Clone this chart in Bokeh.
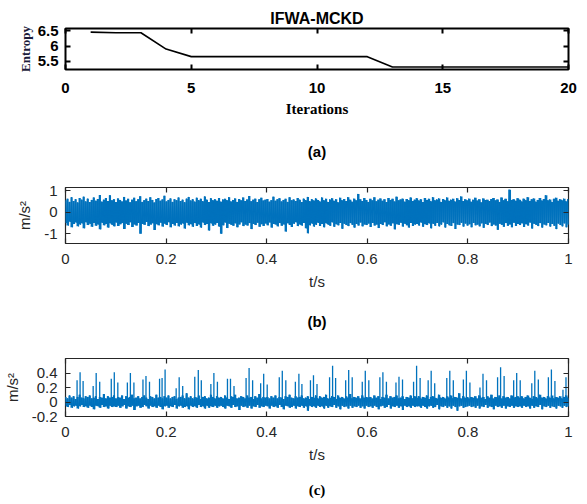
import numpy as np
from bokeh.plotting import figure
from bokeh.models import LinearAxis, FixedTicker, Range1d
from bokeh.layouts import column
from bokeh.embed import file_html
from bokeh.resources import INLINE

# ---------------- data ----------------
iterations = list(range(1, 21))
entropy = [6.46, 6.44, 6.44, 5.90, 5.65, 5.65, 5.65, 5.65, 5.65, 5.65,
           5.65, 5.65, 5.31, 5.31, 5.31, 5.31, 5.31, 5.31, 5.31, 5.31]

# raw vibration signal (b): local maxima / minima
b_hi = [.55,.62,.48,.70,.52,.60,.45,.66,.58,.72,.50,.63,.47,.57,.68,.53,.61,.80,.49,.58,.66,.52,.79,.55,.60,
        .47,.64,.57,.50,.71,.54,.62,.46,.58,.67,.51,.60,.74,.48,.56,.63,.52,.69,.57,.45,.61,.66,.53,.59,.76,
        .50,.57,.64,.48,.60,.55,.68,.52,.58,.46,.63,.71,.54,.60,.49,.67,.56,.62,.51,.73,.58,.47,.65,.55,.60,
        .53,.66,.49,.59,.62,.56,.70,.50,.57,.64,.48,.61,.55,.68,.52,.59,.75,.51,.58,.63,.47,.60,.67,.54,.58,
        .61,.49,.56,.72,.53,.60,.65,.50,.57,.62,.48,.69,.55,.59,.52,.66,.58,.47,.63,.56,.71,.51,.60,.54,.64,
        .57,.50,.68,.55,.62,.48,.59,.65,.53,.60,.46,.67,.56,.61,.52,.70,.58,.49,.63,.55,.85,.60,.52,.66,.57,
        .48,.62,.55,.69,.51,.58,.64,.53,.60,.47,.66,.57,.62,.50,.72,.55,.59,.63,.49,.61,.56,.68,.52,.58,.65,
        .54,.60,.47,.66,.57,.62,.51,.70,.55,.59,.64,.48,.61,.56,.68,.53,.58,.62,.50,.65,.57,.73,.52,.60,.55,
        .63,.49,.58,.67,.54,.60,.46,.64,.57,.58,.52,.61,.66,.55,.59,.48,.68,.56,.62,.51,1.05,.57,.60,.53,.65,
        .58,.50,.63,.56,.70,.52,.60,.64,.49,.57,.66,.54,.61,.79,.55,.59,.48,.62,.67,.53,.60,.56,.63,.51,.60]
b_lo = [-.50,-.62,-.45,-.70,-.55,-.48,-.66,-.58,-.52,-.75,-.47,-.60,-.54,-.68,-.50,-.63,-.57,-.80,-.49,-.61,-.55,-.72,-.52,-.59,-.66,
        -.48,-.64,-.56,-.51,-.78,-.54,-.60,-.47,-.69,-.57,-.62,-.50,-1.0,-.55,-.59,-.46,-.65,-.58,-.52,-.83,-.56,-.61,-.49,-.67,-.54,
        -.60,-.47,-.70,-.55,-.62,-.50,-.66,-.58,-.53,-.76,-.49,-.61,-.56,-.68,-.51,-.64,-.57,-.72,-.48,-.60,-.55,-.85,-.52,-.63,-.58,
        -.50,-.67,-1.0,-.61,-.48,-.74,-.54,-.59,-.63,-.52,-.70,-.57,-.47,-.65,-.58,-.62,-.51,-.79,-.55,-.60,-.49,-.68,-.56,-.64,-.53,
        -.61,-.48,-.72,-.55,-.58,-.66,-.51,-.63,-.57,-.90,-.52,-.60,-.69,-.54,-.47,-.65,-.58,-.62,-.50,-.75,-.98,-.61,-.53,-.67,-.59,
        -.49,-.64,-.55,-.70,-.52,-.58,-.63,-.47,-.68,-.56,-.61,-.50,-.77,-.54,-.60,-.65,-.51,-.59,-.72,-.55,-.62,-.48,-.66,-.57,-.60,
        -.53,-.69,-.50,-.62,-.58,-.74,-.55,-.60,-.47,-.66,-.57,-.63,-.52,-.80,-.56,-.59,-.49,-.67,-.54,-.61,-.71,-.50,-.64,-.58,-.55,
        -.62,-.48,-.68,-.56,-.60,-.52,-.75,-.54,-.63,-.50,-.66,-.58,-.47,-.71,-.55,-.61,-.64,-.51,-.78,-.57,-.60,-.49,-.67,-.53,-.62,
        -.56,-.70,-.50,-.61,-.58,-.66,-.52,-.73,-.55,-.60,-.48,-.65,-.57,-.62,-.82,-.54,-.59,-.68,-.51,-.63,-.57,-.70,-.49,-.64,-.55,
        -.60,-.52,-.69,-.56,-.62,-.48,-.76,-.54,-.59,-.65,-.51,-.72,-.57,-.61,-.50,-.67,-.55,-.63,-.79,-.53,-.60,-.66,-.52,-.70,-.58]

# filtered signal (c): background maxima / minima plus impulse peaks
c_hi = [.07,.05,.09,.06,.08,.04,.07,.10,.06,.05,.08,.07,.09,.05,.06,.08,.04,.07,.06,.11,.05,.08,.06,.07,.09,
        .05,.07,.06,.09,.04,.08,.06,.07,.10,.05,.06,.08,.05,.07,.09,.06,.04,.08,.07,.05,.10,.06,.07,.05,.08,
        .06,.09,.05,.07,.08,.04,.06,.07,.09,.05,.12,.06,.08,.05,.07,.06,.09,.04,.07,.08,.05,.06,.10,.07,.05,
        .08,.06,.07,.05,.09,.06,.04,.08,.07,.10,.05,.06,.08,.07,.05,.09,.06,.07,.04,.08,.06,.11,.05,.07,.06,
        .07,.05,.08,.06,.09,.05,.07,.06,.04,.08,.07,.10,.06,.05,.08,.06,.07,.09,.05,.06,.08,.04,.07,.06,.09,
        .05,.08,.06,.07,.10,.05,.06,.08,.07,.04,.09,.06,.07,.05,.08,.06,.11,.05,.07,.06,.08,.05,.09,.06,.07,
        .06,.07,.05,.09,.06,.08,.04,.07,.06,.10,.05,.08,.06,.07,.09,.05,.06,.08,.04,.07,.06,.09,.05,.08,.06,
        .08,.05,.07,.06,.09,.04,.07,.08,.06,.05,.10,.06,.07,.05,.08,.06,.09,.05,.07,.06,.12,.05,.08,.06,.07,
        .05,.07,.06,.08,.05,.09,.06,.07,.04,.08,.06,.10,.05,.07,.06,.09,.05,.08,.06,.07,.05,.09,.06,.07,.08,
        .06,.08,.05,.07,.09,.06,.04,.08,.07,.05,.10,.06,.07,.05,.08,.06,.09,.05,.07,.06,.08,.05,.07,.09,.06]
c_lo = [-.05,-.07,-.04,-.08,-.06,-.05,-.09,-.06,-.04,-.07,-.06,-.08,-.05,-.07,-.10,-.05,-.06,-.08,-.04,-.07,-.06,-.09,-.05,-.07,-.06,
        -.07,-.05,-.08,-.06,-.04,-.09,-.06,-.07,-.05,-.11,-.06,-.05,-.08,-.07,-.04,-.06,-.09,-.05,-.07,-.06,-.08,-.05,-.07,-.10,-.06,
        -.05,-.08,-.06,-.07,-.04,-.09,-.06,-.05,-.08,-.07,-.06,-.10,-.05,-.07,-.06,-.08,-.04,-.07,-.06,-.09,-.05,-.08,-.06,-.07,-.05,
        -.08,-.06,-.05,-.07,-.09,-.05,-.06,-.08,-.04,-.07,-.06,-.11,-.05,-.07,-.06,-.08,-.05,-.09,-.06,-.07,-.04,-.08,-.06,-.07,-.05,
        -.06,-.09,-.05,-.07,-.06,-.08,-.04,-.07,-.10,-.05,-.06,-.08,-.07,-.05,-.09,-.06,-.07,-.05,-.08,-.06,-.12,-.05,-.07,-.06,-.08,
        -.05,-.07,-.06,-.09,-.05,-.08,-.06,-.07,-.04,-.08,-.06,-.10,-.05,-.07,-.06,-.09,-.05,-.08,-.06,-.07,-.05,-.08,-.06,-.09,-.05,
        -.07,-.06,-.08,-.05,-.07,-.10,-.06,-.05,-.08,-.07,-.04,-.09,-.06,-.07,-.05,-.08,-.06,-.11,-.05,-.07,-.06,-.08,-.05,-.07,-.06,
        -.06,-.08,-.05,-.07,-.09,-.06,-.05,-.08,-.07,-.04,-.10,-.06,-.07,-.05,-.08,-.06,-.09,-.05,-.07,-.12,-.06,-.05,-.08,-.07,-.06,
        -.05,-.07,-.06,-.08,-.05,-.09,-.06,-.07,-.04,-.08,-.06,-.07,-.10,-.05,-.07,-.06,-.08,-.05,-.09,-.06,-.07,-.05,-.08,-.06,-.07,
        -.06,-.08,-.05,-.07,-.06,-.09,-.05,-.08,-.06,-.07,-.04,-.10,-.06,-.07,-.05,-.08,-.06,-.07,-.09,-.05,-.06,-.08,-.05,-.07,-.06]

spike_t = [0.023,0.029,0.035, 0.055,0.061,0.068, 0.091,0.097,0.104, 0.123,0.129,0.136, 0.154,0.160,0.167,
           0.187,0.192,0.198, 0.220,0.226,0.233, 0.257,0.264,0.270, 0.289,0.295,0.302, 0.322,0.328,0.335,
           0.359,0.365,0.372, 0.388,0.394,0.401, 0.425,0.431,0.438, 0.457,0.464,0.470, 0.487,0.493,0.500,
           0.525,0.531,0.537, 0.557,0.563,0.570, 0.590,0.596,0.603, 0.625,0.631,0.638, 0.657,0.663,0.670,
           0.692,0.698,0.705, 0.721,0.727,0.734, 0.758,0.764,0.771, 0.791,0.797,0.804, 0.824,0.830,0.837,
           0.859,0.865,0.872, 0.891,0.897,0.904, 0.927,0.933,0.940, 0.960,0.966,0.973, 0.989,0.995]
spike_h = [0.30,0.41,0.29, 0.22,0.40,0.28, 0.32,0.41,0.27, 0.27,0.40,0.27, 0.31,0.36,0.28,
           0.32,0.33,0.45, 0.19,0.34,0.22, 0.35,0.44,0.30, 0.25,0.40,0.28, 0.32,0.32,0.22,
           0.33,0.47,0.30, 0.26,0.39,0.24, 0.34,0.43,0.30, 0.28,0.39,0.25, 0.30,0.37,0.25,
           0.34,0.50,0.33, 0.30,0.44,0.34, 0.28,0.43,0.30, 0.34,0.41,0.28, 0.27,0.35,0.31,
           0.28,0.50,0.33, 0.30,0.43,0.26, 0.33,0.43,0.30, 0.31,0.43,0.27, 0.20,0.39,0.30,
           0.34,0.48,0.36, 0.30,0.40,0.30, 0.26,0.43,0.31, 0.34,0.45,0.29, 0.17,0.34]

time_ticks = [0, 0.2, 0.4, 0.6, 0.8, 1]
time_labels = ["0", "0.2", "0.4", "0.6", "0.8", "1"]

BLUE = "#0072BD"
DARK = "#262626"
SANS = "Arial"
SERIF = "Liberation Serif"


def interleave(hi, lo):
    s = np.empty(len(hi) + len(lo))
    s[0::2] = hi
    s[1::2] = lo
    return s


def box_axis(ticks, color, width, tick_len=5):
    return LinearAxis(ticker=FixedTicker(ticks=ticks),
                      major_label_overrides={k: "" for k in ticks},
                      major_label_standoff=0, major_tick_in=tick_len, major_tick_out=0,
                      minor_tick_line_color=None, axis_line_color=None,
                      major_tick_line_color=color, major_tick_line_width=width)


def caption_axis(text, font, standoff):
    # sub-figure caption carried by a tick-less axis under the x axis
    return LinearAxis(ticker=FixedTicker(ticks=[]), major_tick_in=0, major_tick_out=0,
                      major_label_standoff=0, major_label_text_font_size="1px",
                      axis_line_color=None, minor_tick_line_color=None,
                      major_tick_line_color=None, axis_label=text,
                      axis_label_text_font=font, axis_label_text_font_size="15px",
                      axis_label_text_font_style="bold", axis_label_text_color="black",
                      axis_label_standoff=standoff)


def base_axes(p, xt, xl, yt, yl, color, width, font, fsize, fstyle):
    p.xaxis.ticker = FixedTicker(ticks=xt)
    p.yaxis.ticker = FixedTicker(ticks=yt)
    p.xaxis.major_label_overrides = {k: v for k, v in zip(xt, xl)}
    p.yaxis.major_label_overrides = {k: v for k, v in zip(yt, yl)}
    for ax in (p.xaxis[0], p.yaxis[0]):
        ax.major_tick_in = 5
        ax.major_tick_out = 0
        ax.minor_tick_line_color = None
        ax.axis_line_color = None
        ax.major_tick_line_color = color
        ax.major_tick_line_width = width
        ax.major_label_text_font = font
        ax.major_label_text_font_size = fsize
        ax.major_label_text_font_style = fstyle
        ax.major_label_text_color = color
    p.xgrid.visible = False
    p.ygrid.visible = False
    p.outline_line_color = color
    p.outline_line_width = width
    p.outline_line_alpha = 1


def dense_signal(p, hi, lo):
    tc = np.linspace(0, 1, len(hi))
    p.segment(x0=tc, y0=lo, x1=tc, y1=hi, line_color=BLUE, line_width=2.2)
    s = interleave(hi, lo)
    p.line(np.linspace(0, 1, len(s)), s, line_color=BLUE, line_width=1, line_join="round")


# ---------------- panel (a) ----------------
pa = figure(width=587, height=170, output_backend="svg", toolbar_location=None,
            x_range=Range1d(0, 20), y_range=Range1d(5.225, 6.58),
            min_border_left=63, min_border_right=19, min_border_top=28, min_border_bottom=101)
pa.line(iterations, entropy, line_color="black", line_width=1.6)
ya = [5.5, 6, 6.5]
xa = [0, 5, 10, 15, 20]
base_axes(pa, xa, ["0", "5", "10", "15", "20"], ya, ["5.5", "6", "6.5"], "black", 2, SANS, "15px", "bold")
pa.xaxis.major_label_standoff = 13
pa.yaxis.major_label_standoff = 7
pa.xaxis.axis_label = "Iterations"
pa.xaxis.axis_label_text_font = SERIF
pa.xaxis.axis_label_text_font_size = "15px"
pa.xaxis.axis_label_text_font_style = "bold"
pa.xaxis.axis_label_text_color = "black"
pa.xaxis.axis_label_standoff = 5
pa.yaxis.axis_label = "Entropy"
pa.yaxis.axis_label_text_font = SERIF
pa.yaxis.axis_label_text_font_size = "13px"
pa.yaxis.axis_label_text_font_style = "bold"
pa.yaxis.axis_label_text_color = "#1c1c3c"
pa.yaxis.axis_label_standoff = 2
top_a = box_axis(xa, "black", 2)
top_a.axis_label = "IFWA-MCKD"
top_a.axis_label_text_font = SANS
top_a.axis_label_text_font_size = "16px"
top_a.axis_label_text_font_style = "bold"
top_a.axis_label_text_color = "black"
top_a.axis_label_standoff = 2
pa.add_layout(top_a, "above")
pa.add_layout(box_axis(ya, "black", 2), "right")
pa.add_layout(caption_axis("(a)", SANS, 23), "below")

# ---------------- panel (b) ----------------
pb = figure(width=587, height=170, output_backend="svg", toolbar_location=None,
            x_range=Range1d(0, 1), y_range=Range1d(-1.46, 1.15),
            min_border_left=57, min_border_right=19, min_border_top=17, min_border_bottom=97)
dense_signal(pb, b_hi, b_lo)
yb = [-1, 0, 1]
base_axes(pb, time_ticks, time_labels, yb, ["-1", "0", "1"], DARK, 1.2, SANS, "15px", "normal")
pb.xaxis.major_label_standoff = 10
pb.yaxis.major_label_standoff = 8
pb.xaxis.axis_label = "t/s"
pb.yaxis.axis_label = "m/s²"
for ax in (pb.xaxis[0], pb.yaxis[0]):
    ax.axis_label_text_font = SANS
    ax.axis_label_text_font_size = "15px"
    ax.axis_label_text_font_style = "normal"
    ax.axis_label_text_color = DARK
pb.xaxis.axis_label_standoff = 6
pb.yaxis.axis_label_standoff = 8
pb.add_layout(box_axis(time_ticks, DARK, 1.2), "above")
pb.add_layout(box_axis(yb, DARK, 1.2), "right")
pb.add_layout(caption_axis("(b)", SANS, 20), "below")

# ---------------- panel (c) ----------------
pc = figure(width=587, height=164, output_backend="svg", toolbar_location=None,
            x_range=Range1d(0, 1), y_range=Range1d(-0.2, 0.6),
            min_border_left=59, min_border_right=16, min_border_top=18, min_border_bottom=88)
dense_signal(pc, c_hi, c_lo)
pc.segment(x0=spike_t, y0=0, x1=spike_t, y1=spike_h, line_color=BLUE, line_width=1.3)
yc = [-0.2, 0, 0.2, 0.4]
base_axes(pc, time_ticks, time_labels, yc, ["-0.2", "0", "0.2", "0.4"], DARK, 1.2, SANS, "15px", "normal")
pc.xaxis.major_label_standoff = 10
pc.yaxis.major_label_standoff = 8
pc.xaxis.axis_label = "t/s"
pc.yaxis.axis_label = "m/s²"
for ax in (pc.xaxis[0], pc.yaxis[0]):
    ax.axis_label_text_font = SANS
    ax.axis_label_text_font_size = "15px"
    ax.axis_label_text_font_style = "normal"
    ax.axis_label_text_color = DARK
pc.xaxis.axis_label_standoff = 6
pc.yaxis.axis_label_standoff = 8
pc.add_layout(box_axis(time_ticks, DARK, 1.2), "above")
pc.add_layout(box_axis(yc, DARK, 1.2), "right")
pc.add_layout(caption_axis("(c)", SERIF, 16), "below")

layout = column(pa, pb, pc, spacing=0)
open("out.html", "w").write(file_html(layout, INLINE))
